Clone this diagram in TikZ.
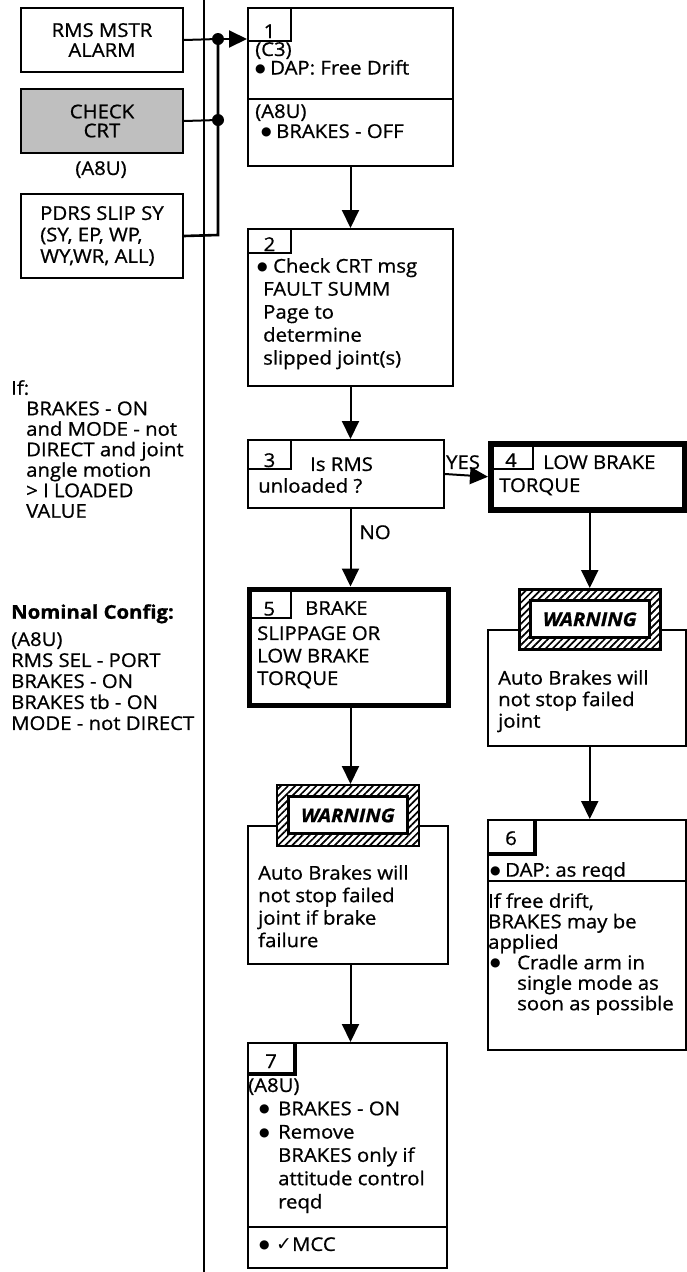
\documentclass[tikz,border=0pt]{standalone}
\usepackage{fontspec}
\setmainfont{Open Sans}[FakeBold=0.8,FakeStretch=1.07]
\newfontfamily\symfont{DejaVu Sans}
\usetikzlibrary{arrows.meta,patterns.meta}
\newcommand{\bul}[1][16pt]{\makebox[#1][l]{\raisebox{2.5pt}{\symfont\fontsize{12}{12}\selectfont ●}}}
\begin{document}
\begin{tikzpicture}[x=1pt,y=-1pt,
  box/.style={draw,line width=2pt,anchor=north west,inner sep=0pt},
  heavybox/.style={box,line width=5.5pt},
  tabbox/.style={draw,line width=2pt,anchor=north west,inner sep=0pt,font=\fontsize{19}{19}\selectfont},
  txt/.style={anchor=north west,inner sep=0pt,align=left,font=\fontsize{19}{23}\selectfont},
  wire/.style={line width=2pt},
  flow/.style={line width=2pt,-{Triangle[length=18pt,width=17pt]}},
  warnframe/.style={draw,line width=2.5pt,anchor=north west,inner sep=0pt,preaction={fill=white},
    pattern={Lines[angle=45,distance=5pt,line width=1.7pt]}},
  warninner/.style={draw,line width=3pt,fill=white,inner sep=0pt,minimum width=119pt,minimum height=37pt,
    font=\fontsize{19}{19}\selectfont\bfseries\itshape},
]
\useasboundingbox (0,0) rectangle (687,1272);

% left column
\draw[line width=2.2pt] (204,0) -- (204,1272);
\node[box,minimum width=162pt,minimum height=64pt,align=center,font=\fontsize{19}{20}\selectfont] (rms) at (20,7) {RMS MSTR\\ALARM};
\node[box,fill=black!25,minimum width=162pt,minimum height=64pt,align=center,font=\fontsize{19}{19}\selectfont] (crt) at (20,88) {CHECK\\CRT};
\node[txt,anchor=north] (crtnote) at (101,161) {(A8U)};
\node[box,minimum width=162pt,minimum height=84pt,align=left,font=\fontsize{19}{21.5}\selectfont] (pdrs) at (20,193) {PDRS SLIP SY\\(SY, EP, WP,\\WY,WR, ALL)};

\coordinate (j1) at (218,39);
\coordinate (j2) at (218,120);
\coordinate (j3) at (218,235);
\draw[wire] (rms.east) -- (j1);
\draw[wire] (crt.east) -- (j2);
\draw[wire,line width=2.6pt] (pdrs.east) -- (j3) -- (j1);
\fill (j1) circle (6);
\fill (j2) circle (6);

\node[txt,font=\fontsize{19}{20.5}\selectfont] (ifnote) at (11,380) {If:\\\hspace*{15pt}BRAKES - ON\\\hspace*{15pt}and MODE - not\\\hspace*{15pt}DIRECT and joint\\\hspace*{15pt}angle motion\\\hspace*{15pt}> I LOADED\\\hspace*{15pt}VALUE};
\node[txt,font=\fontsize{19}{21}\selectfont\bfseries] (nomhead) at (11,604) {Nominal Config:};
\node[txt,font=\fontsize{19}{21}\selectfont] (nomlist) at (11,632) {(A8U)\\RMS SEL - PORT\\BRAKES - ON\\BRAKES tb - ON\\MODE - not DIRECT};

% box 1
\node[box,minimum width=205pt,minimum height=158pt] (b1) at (247,7) {};
\node[tabbox,minimum width=43pt,text height=30pt,text depth=3pt] (t1) at (b1.north west) {1};
\draw[line width=2pt] (247,99) -- (452,99);
\node[txt,font=\fontsize{19}{17.5}\selectfont] (b1a) at (255,42) {(C3)\\\bul[15pt]DAP: Free Drift};
\node[txt,font=\fontsize{19}{20}\selectfont] (b1b) at (255,104) {(A8U)\\\hspace*{6pt}\bul[15pt]BRAKES - OFF};
\draw[flow] (j1) -- (j1 -| b1.west);

% box 2
\node[box,minimum width=205pt,minimum height=157pt] (b2) at (247,228) {};
\node[tabbox,minimum width=43pt,text height=22pt,text depth=2pt] (t2) at (b2.north west) {2};
\node[txt] (b2a) at (257,258) {\bul Check CRT msg\\\hspace*{6pt}FAULT SUMM\\\hspace*{6pt}Page to\\\hspace*{6pt}determine\\\hspace*{6pt}slipped joint(s)};
\draw[flow] (b1.south) -- (b1.south |- b2.north);

% box 3
\node[box,minimum width=196pt,minimum height=68pt] (b3) at (247,439) {};
\node[tabbox,minimum width=43pt,text height=27pt,text depth=2pt] (t3) at (b3.north west) {3};
\node[txt] (b3a) at (310,457) {Is RMS};
\node[txt] (b3b) at (258,478) {unloaded ?};
\draw[flow] (b1.south |- b2.south) -- (b1.south |- b3.north);

% box 4
\node[heavybox,minimum width=194pt,minimum height=66pt] (b4) at (488,441) {};
\node[tabbox,minimum width=44pt,text height=25pt,text depth=2pt] (t4) at (b4.north west) {4};
\node[txt] (b4a) at (543,455) {LOW BRAKE};
\node[txt] (b4b) at (499,478) {TORQUE};
\draw[flow] (b3.east) -- (b4.west) node[pos=0.42,above,font=\fontsize{19}{19}\selectfont,inner sep=5pt] (yes) {YES};

% box 5
\node[heavybox,minimum width=199pt,minimum height=116pt] (b5) at (246.5,586.5) {};
\node[tabbox,minimum width=43.5pt,text height=28pt,text depth=2pt] (t5) at (b5.north west) {5};
\node[txt] (b5a) at (305,601) {BRAKE};
\node[txt,font=\fontsize{19}{22.5}\selectfont] (b5b) at (257,626) {SLIPPAGE OR\\LOW BRAKE\\TORQUE};
\draw[flow] (b1.south |- b3.south) -- (b1.south |- b5.north) node[pos=0.3,right,font=\fontsize{19}{19}\selectfont,inner sep=8pt] (no) {NO};

% warning, left
\node[box,minimum width=200pt,minimum height=138pt] (w1body) at (247,825) {};
\node[warnframe,minimum width=142pt,minimum height=61pt] (w1) at (276,784) {};
\node[warninner] (w1t) at (w1.center) {WARNING};
\node[txt,font=\fontsize{19}{22.5}\selectfont] (w1a) at (258,865) {Auto Brakes will\\not stop failed\\joint if brake\\failure};
\draw[flow] (b1.south |- b5.south) -- (b1.south |- w1.north);

% box 7
\node[box,minimum width=199pt,minimum height=225pt] (b7) at (247,1042) {};
\node[tabbox,minimum width=46pt,text height=25pt,text depth=5pt] (t7) at (b7.north west) {7};
\draw[line width=4.5pt] (t7.north east) -- (t7.south east) -- (t7.south west);
\draw[line width=2pt] (247,1227) -- (446,1227);
\node[txt,font=\fontsize{19}{23.3}\selectfont] (b7a) at (248,1078) {(A8U)\\\hspace*{11pt}\bul[19pt]BRAKES - ON\\\hspace*{11pt}\bul[19pt]Remove\\\hspace*{30pt}BRAKES only if\\\hspace*{30pt}attitude control\\\hspace*{30pt}reqd};
\node[txt] (b7b) at (259,1237) {\bul[17pt]{\symfont ✓}MCC};
\draw[flow] (b1.south |- w1body.south) -- (b1.south |- b7.north);

% warning, right
\node[box,minimum width=198pt,minimum height=116pt] (w2body) at (487,629) {};
\node[warnframe,minimum width=141pt,minimum height=60pt] (w2) at (518,588) {};
\node[warninner] (w2t) at (w2.center) {WARNING};
\node[txt,font=\fontsize{19}{21.5}\selectfont] (w2a) at (498,670) {Auto Brakes will\\not stop failed\\joint};
\draw[flow] (b4.south -| w2.north) -- (w2.north);

% box 6
\node[box,minimum width=198pt,minimum height=230pt] (b6) at (487,819) {};
\node[tabbox,minimum width=46pt,text height=25pt,text depth=8pt] (t6) at (b6.north west) {6};
\draw[line width=4.5pt] (t6.north east) -- (t6.south east) -- (t6.south west);
\draw[line width=2pt] (487,881) -- (685,881);
\node[txt] (b6a) at (490,862) {\bul[15pt]DAP: as reqd};
\node[txt,font=\fontsize{19}{20.5}\selectfont] (b6b) at (488,893) {If free drift,\\BRAKES may be\\applied\\\hspace*{2pt}\bul[27pt]Cradle arm in\\\hspace*{29pt}single mode as\\\hspace*{29pt}soon as possible};
\draw[flow] (w2.north |- w2body.south) -- (w2.north |- b6.north);
\end{tikzpicture}
\end{document}
